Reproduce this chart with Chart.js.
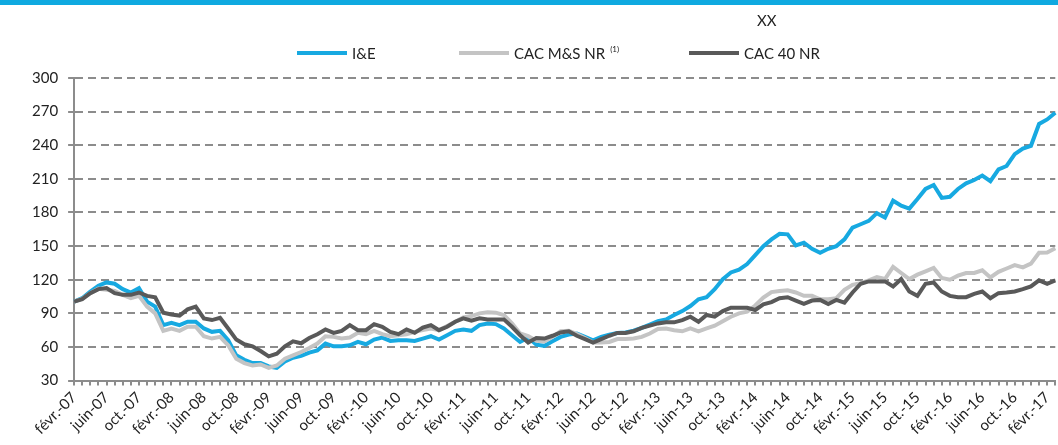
<!DOCTYPE html>
<html>
<head>
<meta charset="utf-8">
<script src="https://cdn.jsdelivr.net/npm/chart.js@4.4.1/dist/chart.umd.min.js"></script>
<style>
  body { margin: 0; background: #fff; font-family: Lato, sans-serif; }
  #wrap { position: relative; width: 1058px; height: 445px; overflow: hidden; }
  #chart { position: absolute; left: 0; top: 0; }
  #topbar { position: absolute; left: 0; top: 0; width: 1058px; height: 5px; background: #0fa9e0; }
  #xx { position: absolute; left: 757px; top: 11px; font-size: 15px; color: #222; }
  .leg-line { position: absolute; top: 51px; width: 50px; height: 4px; }
  .leg-text { position: absolute; top: 44px; font-size: 15px; color: #222; white-space: nowrap; }
  .leg-text sup { font-size: 8px; vertical-align: 7px; margin-left: 5px; }
</style>
</head>
<body>
<div id="wrap">
  <!-- canvas a bit wider than the page: the picture is cut on the right -->
  <canvas id="chart" width="1071" height="445"></canvas>
  <div id="topbar"></div>
  <div id="xx">XX</div>
  <div id="legend"></div>
</div>
<script>
// months fevr.-07 -> mars-17
var monthNames = ["janv.", "févr.", "mars", "avr.", "mai", "juin", "juil.", "août", "sept.", "oct.", "nov.", "déc."];
var firstMonth = 1, firstYear = 7, nbMonths = 122;

var seriesNames = ["I&E", "CAC M&S NR", "CAC 40 NR"];
var seriesNotes = ["", "(1)", ""];
var seriesColors = ["#17a9e1", "#c4c4c4", "#595959"];

var ieValues = [
  100.5, 103.5, 109.5, 114.6, 117.6, 116.4, 111.6, 108.6, 112.5, 100.5,
  96, 79.5, 81.6, 79.5, 82.5, 82.5, 76.5, 73.5, 74.4, 66,
  52.5, 48.6, 45.6, 45.6, 42.6, 41.4, 47, 50.4, 52, 55,
  57, 63, 60.6, 60.6, 61.5, 64.5, 62.4, 66.6, 68.4, 65.4,
  66, 66, 65.4, 67.5, 69.6, 66.6, 70.5, 74.4, 75.6, 74.4,
  79.5, 81, 80.4, 76.5, 70.5, 64.5, 68.4, 62, 61, 65,
  69, 71, 72, 69, 66, 69, 71, 72.5, 73, 74.5,
  77, 80, 83, 84.6, 88.5, 92, 96.5, 102.5, 104.5, 111.5,
  120.5, 126.5, 129, 134, 142, 150, 156, 161, 160.5, 150.6,
  153, 147.6, 144, 147.6, 150, 156, 166.5, 169.5, 172.5, 179.4,
  175.5, 190.5, 186, 183.5, 192, 201, 204.5, 193, 194, 201,
  206, 209, 213, 208, 218.5, 221.5, 232, 237, 239.5, 259,
  263, 269
];
var msValues = [
  100.5, 103, 108, 112, 111, 110, 106.5, 103.5, 105.6, 96,
  90, 74.4, 76.5, 74.4, 78, 78, 69.6, 67.5, 69, 61.5,
  49.5, 45.6, 43.5, 44.4, 41.4, 43.5, 49.5, 52.5, 55.5, 59,
  63, 69.6, 69, 67.5, 68.4, 72.6, 71.4, 74.4, 71.4, 69.6,
  70.5, 71.4, 73.5, 75, 76.5, 75, 78.6, 82.5, 86.4, 87.6,
  90, 91, 90.6, 88.5, 81, 72, 69.6, 65.5, 65, 69,
  74, 74.5, 71.5, 68, 64, 64, 64.5, 67, 67, 67.5,
  69, 72, 76, 76.5, 75, 74, 76.5, 74, 76.5, 79,
  83, 87, 90, 91.5, 97, 104, 109, 110, 110.5, 108.6,
  105.6, 105.6, 102.6, 102.6, 103.5, 111, 115.5, 117, 119.4, 122.4,
  120.6, 131.4, 126, 120.6, 124.5, 127.5, 130.5, 121.5, 120, 123.6,
  126, 126, 128.4, 122, 127, 130, 133, 131, 134.4, 144,
  144.3, 148
];
var cac40Values = [
  100.5, 102.6, 108, 111.6, 112.5, 108, 106.5, 106.5, 108.6, 105.6,
  104.4, 90.6, 89, 88, 93.6, 96, 85.5, 84, 86, 76.5,
  66.6, 62.4, 60.6, 56.4, 51.6, 54, 60.6, 65, 63.3, 68,
  71.4, 75.6, 72.6, 74.4, 79.5, 75, 75, 80.4, 78, 73.5,
  71.4, 75.6, 72.6, 77.4, 79.5, 75, 78, 82.5, 85.5, 83.4,
  85.5, 84.6, 84.6, 84.6, 78, 70.5, 64, 68, 67.5, 70,
  73, 74, 70, 67, 64, 67, 70, 72.5, 72.5, 74,
  77, 79, 81, 82, 82, 84, 87, 82.5, 88.5, 87,
  92, 95, 95, 95, 93, 98, 100, 103.5, 104.4, 101.4,
  98.4, 101.4, 102, 98.4, 102, 99.6, 108.6, 116.4, 118.5, 118.5,
  118.5, 114, 120.6, 109.5, 105.6, 116.4, 117.6, 109.5, 105.6, 104.4,
  104.4, 107.4, 109.5, 103.5, 108, 108.6, 109.5, 111.6, 114, 119.4,
  116.4, 119.4
];

var yMin = 30, yMax = 300, yStep = 30;
var labelEvery = 4;

var labels = [];
for (var k = 0; k < nbMonths; k++) {
  var m = (firstMonth + k) % 12;
  var y = firstYear + Math.floor((firstMonth + k) / 12);
  labels.push(monthNames[m] + "-" + (y < 10 ? "0" + y : y));
}

var allValues = [ieValues, msValues, cac40Values];
var datasets = allValues.map(function (vals, i) {
  return {
    label: seriesNames[i],
    data: vals,
    borderColor: seriesColors[i],
    backgroundColor: seriesColors[i],
    borderWidth: 4,
    pointRadius: 0,
    tension: 0,
    order: 2 - i
  };
});

var gridColor = "#8c8c8c";
var ctx = document.getElementById("chart").getContext("2d");
var myChart = new Chart(ctx, {
  type: "line",
  data: { labels: labels, datasets: datasets },
  options: {
    responsive: false,
    animation: false,
    layout: { padding: { top: 78, left: 22, right: 0, bottom: 4 } },
    plugins: { legend: { display: false }, tooltip: { enabled: false } },
    scales: {
      x: {
        offset: false,
        grid: { drawOnChartArea: false, drawTicks: true, tickLength: 5, color: gridColor, lineWidth: 2, tickBorderDash: [] },
        border: { display: true, color: gridColor, width: 2 },
        ticks: {
          autoSkip: false, maxRotation: 45, minRotation: 45, padding: 3,
          color: "#222", font: { family: "Lato", size: 15 },
          callback: function (val, index) {
            return index % labelEvery === 0 ? this.getLabelForValue(val) : "";
          }
        }
      },
      y: {
        min: yMin, max: yMax,
        grid: { color: gridColor, lineWidth: 2, tickLength: 6, tickBorderDash: [] },
        border: { display: true, color: gridColor, width: 2, dash: [8, 5] },
        ticks: { stepSize: yStep, padding: 10, color: "#222", font: { family: "Lato", size: 15 } }
      }
    }
  }
});

// legend built from the datasets
var legendX = [297, 459, 689];
var legend = document.getElementById("legend");
datasets.forEach(function (ds, i) {
  var line = document.createElement("div");
  line.className = "leg-line";
  line.style.left = legendX[i] + "px";
  line.style.background = ds.borderColor;
  legend.appendChild(line);
  var txt = document.createElement("div");
  txt.className = "leg-text";
  txt.style.left = (legendX[i] + 55) + "px";
  txt.textContent = ds.label;
  if (seriesNotes[i]) {
    var sup = document.createElement("sup");
    sup.textContent = seriesNotes[i];
    txt.appendChild(sup);
  }
  legend.appendChild(txt);
});
</script>
</body>
</html>
